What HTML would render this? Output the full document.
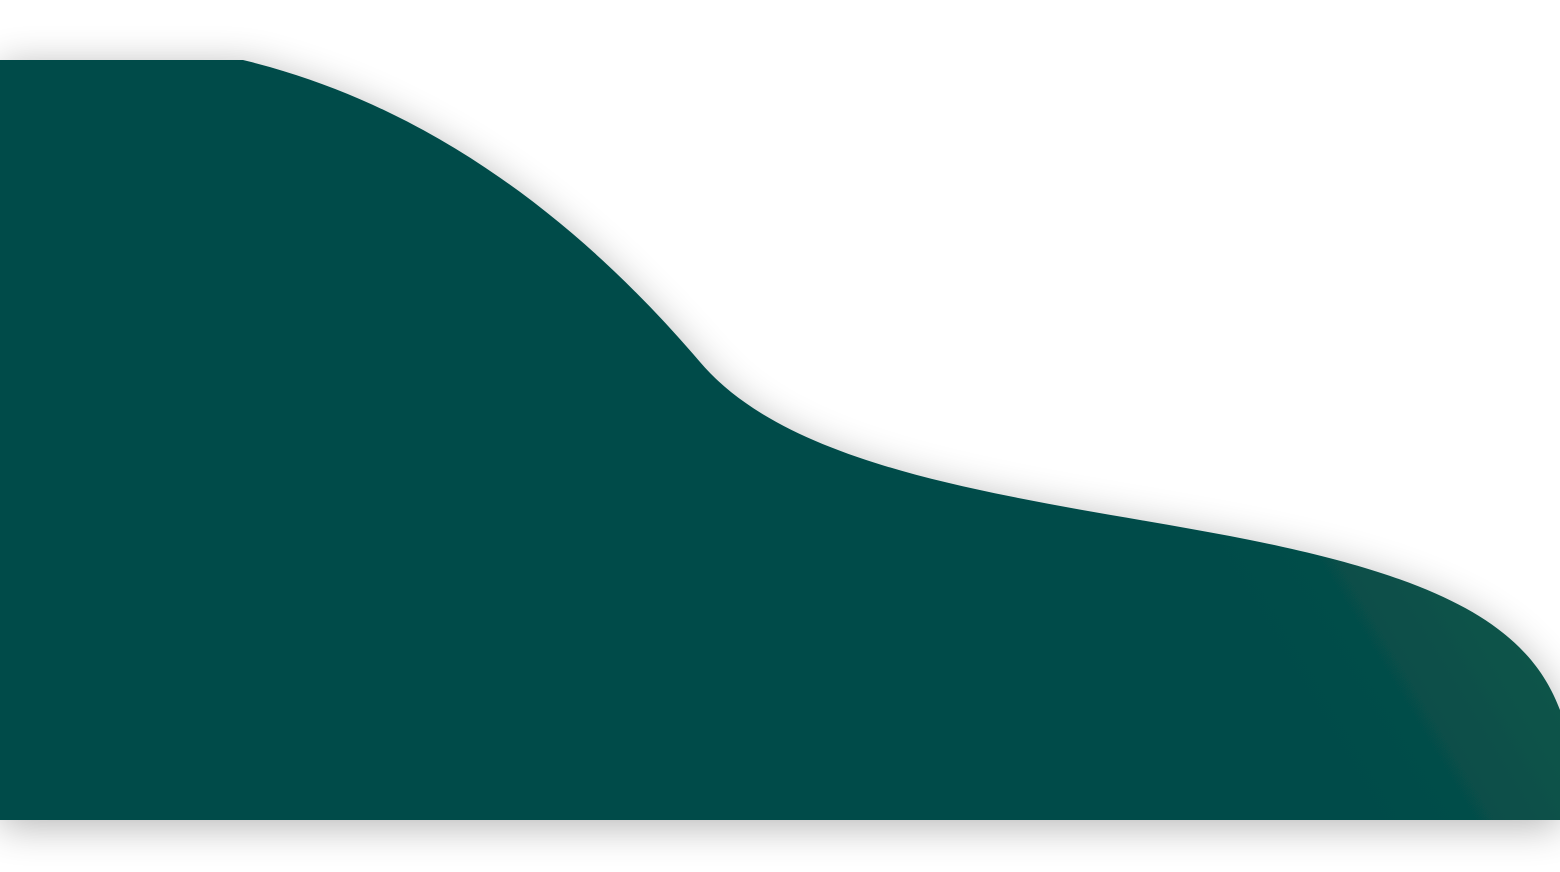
<!DOCTYPE html>
<html>
<head>
<meta charset="utf-8">
<style>
  html,body{margin:0;padding:0;background:#fff;width:1560px;height:872px;overflow:hidden;}
  svg{display:block;}
</style>
</head>
<body>
<svg width="1560" height="872" viewBox="0 0 1560 872">
  <defs>
    <filter id="sh" x="-10%" y="-20%" width="120%" height="140%">
      <feGaussianBlur in="SourceAlpha" stdDeviation="20"/>
      <feOffset dx="0" dy="6" result="b"/>
      <feComponentTransfer><feFuncA type="linear" slope="0.3"/></feComponentTransfer>
      <feMerge><feMergeNode/><feMergeNode in="SourceGraphic"/></feMerge>
    </filter>
    <linearGradient id="g" x1="1300" y1="800" x2="1600" y2="620" gradientUnits="userSpaceOnUse">
      <stop offset="0" stop-color="#024b48"/>
      <stop offset="0.35" stop-color="#054d48"/>
      <stop offset="1" stop-color="#12574a"/>
    </linearGradient>
  </defs>
  <path filter="url(#sh)" fill="url(#g)"
    d="M0,60 L243,60 C450,110 600,245 700,362 C800,480 1050,500 1250,540 C1450,580 1530,630 1560,710 L1560,820 L0,820 Z"/>
</svg>
</body>
</html>
